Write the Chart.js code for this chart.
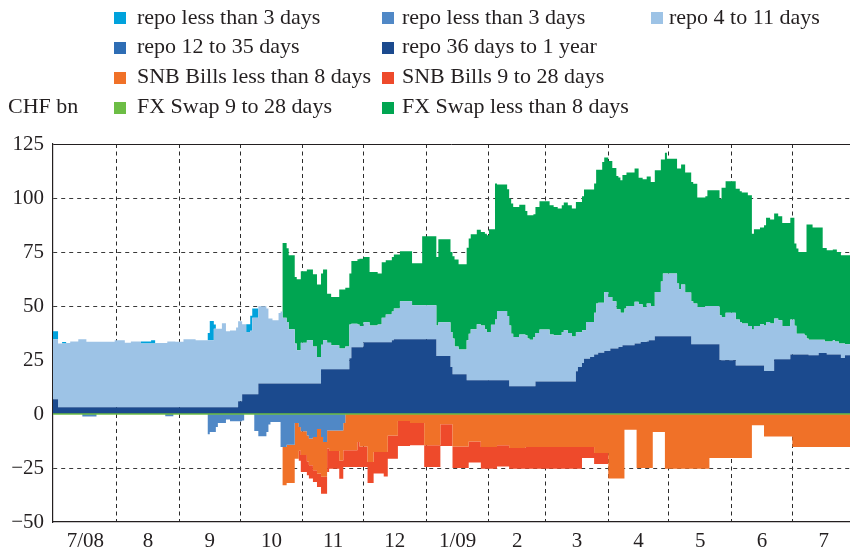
<!DOCTYPE html>
<html>
<head>
<meta charset="utf-8">
<script src="https://cdn.jsdelivr.net/npm/chart.js@4.4.0/dist/chart.umd.min.js"></script>
<style>
  body { margin: 0; background: #fff; }
  #wrap { position: relative; width: 850px; height: 551px; font-family: 'Liberation Serif', serif; color: #231f20; }
  #chart { position: absolute; left: 0; top: 0; }
  .txt { position: absolute; font-size: 22px; line-height: 24px; white-space: nowrap; }
  .sw { position: absolute; width: 12px; height: 12px; }
</style>
</head>
<body>
<div id="wrap">
  <canvas id="chart" width="850" height="551"></canvas>
  <div id="legend"></div>
</div>
<script>
// days counted from 1 Jul 2008, each value holds until the next day in the list
const days = [
  -1, 2, 4, 6, 8, 12, 14, 16, 21, 30,
  35, 38, 43, 48, 50, 55, 56, 59, 60,
  64, 70, 76, 77, 79, 80, 81, 83, 85, 87, 90, 91,
  93, 94, 95, 97, 98, 99, 101, 105, 106, 107, 108, 111, 112, 113, 115, 116, 119, 120, 121, 122,
  125, 126, 128, 130, 132, 133, 135, 136, 137, 141, 143, 144, 146, 147, 150, 151,
  153, 155, 156, 158, 160, 162, 163, 164, 165, 167, 168, 170, 171, 176, 177, 182, 183,
  189, 190, 191, 196, 197, 198, 200, 204, 205, 206, 209, 211, 213, 214,
  215, 216, 218, 219, 224, 225, 226, 227, 230, 233, 234, 235, 237, 238, 240,
  245, 247, 249, 251, 252, 254, 256, 258, 259, 261, 262, 263, 265, 267, 268, 269, 271, 272,
  274, 275, 276, 278, 279, 280, 281, 282, 283, 287, 288, 289, 290, 291, 293, 294, 295, 296, 297, 300, 301, 302, 303,
  308, 309, 310, 312, 315, 316, 318, 322, 323, 324, 329, 330, 332,
  337, 339, 340, 343, 345, 346, 349, 351, 352, 354, 356, 358, 360, 364,
  365, 366, 367, 368, 371, 372, 373, 375, 378, 380, 381, 382, 385, 386, 387, 388, 389, 391, 394
];

const repo36dTo1y = [
  6.8, 3.1, 3.1, 3.1, 3.1, 3.1, 3.1, 3.1, 3.1, 3.1,
  3.1, 3.1, 3.1, 3.1, 3.1, 3.1, 3.1, 3.1, 3.1,
  3.1, 3.1, 3.1, 3.1, 3.1, 3.1, 3.1, 3.1, 3.1, 3.1, 3.1, 5.9,
  9.1, 9.1, 9.1, 9.1, 9.1, 9.1, 14.1, 14.1, 14.1, 14.1, 14.1, 14.1, 14.1, 14.1, 14.1, 14.1, 14.1, 14.1, 14.1, 14.1,
  14.1, 14.1, 14.1, 14.1, 20.7, 20.7, 20.7, 20.7, 20.7, 20.7, 20.7, 20.7, 25.8, 30.9, 30.9, 30.9,
  33.2, 33.2, 33.2, 33.2, 33.2, 33.2, 33.2, 33.2, 33.2, 34.1, 34.6, 34.6, 34.6, 34.6, 34.6, 34.6, 34.6,
  26.8, 26.8, 26.8, 21.8, 18.4, 18.4, 18.4, 15.6, 15.6, 15.6, 15.6, 15.6, 15.6, 15.6,
  15.6, 15.6, 15.6, 15.6, 15.6, 12.8, 12.8, 12.8, 12.8, 12.8, 12.8, 12.8, 12.8, 15.1, 15.1,
  15.1, 15.1, 15.1, 15.1, 15.1, 15.1, 15.1, 19.8, 21.8, 23.6, 25.6, 25.6, 26.4, 27.5, 27.5, 28.4, 28.4, 29.2,
  29.2, 30.3, 30.3, 30.3, 31, 31, 31.8, 31.8, 31.8, 32.6, 32.6, 32.6, 33.3, 33.3, 33.6, 34.1, 34.1, 34.1, 36, 36, 36, 36, 36,
  36, 36, 36, 36, 32.3, 32.3, 32.3, 32.3, 32.3, 32.3, 24.9, 24.9, 24.9,
  22.5, 22.5, 22.5, 22.5, 22.5, 22.5, 22.5, 19.9, 19.9, 19.9, 25.3, 25.3, 25.3, 27.6,
  27.6, 27.6, 27.6, 27.6, 27.6, 27.6, 27.2, 27.2, 28.2, 28.2, 28.2, 27.6, 27.6, 27.6, 27.6, 27.6, 25.9, 27.2, 27.2
];

const repo4to11 = [
  27.8, 29.5, 29.5, 29.8, 30.5, 31.5, 31.5, 30.4, 30.4, 31.0,
  29.9, 30.5, 29.5, 29.5, 29.8, 29.8, 30.5, 30.5, 30.3,
  31.5, 31.0, 31.0, 31.0, 36.4, 36.4, 36.4, 38.9, 35.2, 35.6, 37.0, 37.0,
  32.4, 32.4, 28.9, 29.4, 35.5, 35.5, 35.8, 34.8, 30.1, 30.1, 29.3, 32.7, 33.3, 30.5, 28.5, 25.1, 18.5, 15.4, 15.4, 18.9,
  20, 20, 17.2, 12.3, 11.4, 13.4, 12.3, 12.3, 11.1, 9.6, 9.6, 10.6, 15.6, 10.9, 10.5, 9.8,
  9.3, 9.3, 7.8, 7.8, 8.2, 11.4, 11.4, 12.9, 12.9, 13.4, 14.2, 14.2, 17.6, 17.6, 15.7, 15.7, 15.7,
  14.2, 15.7, 15.7, 16.2, 16.5, 12.9, 11.5, 18.5, 21.6, 23.6, 25.9, 25.4, 23.6, 22.4,
  22.4, 25.7, 28.2, 32.1, 29.8, 28.2, 24.4, 22.8, 24, 23.7, 22.2, 21.6, 22.8, 22.4, 24,
  21.7, 21.4, 21.4, 22.9, 23.7, 22.4, 20.8, 18, 16, 15.2, 13.2, 17, 16.2, 19.4, 23.6, 23.1, 23.1, 27.3,
  25, 23.9, 21.9, 18.2, 17.5, 15.9, 15.1, 17, 18.2, 19.4, 19.4, 18.2, 17.5, 16.2, 17.5, 17, 15.9, 15.9, 20.5, 25.4, 29, 29, 29,
  24.4, 21.7, 23.9, 20.2, 19.9, 18.8, 17.2, 17.7, 17.7, 17.7, 20.8, 20, 22,
  21.3, 20.1, 19.4, 18.2, 16.6, 18.2, 19, 21.1, 22.7, 22, 18.9, 18.1, 15.4, 16.1,
  16.1, 13.3, 9.6, 9.6, 8.8, 7.3, 7.2, 7.2, 6.2, 6.2, 5.4, 6, 6.5, 6, 6, 5, 6.7, 5.1, 5.1
];

const repoUnder3 = [
  3.7, 0, 0.7, 0, 0, 0, 0, 0, 0, 0,
  0, 0, 1.0, 1.6, 0, 0, 0, 0, 0,
  0, 0, 3.4, 8.9, 1.9, 0, 0, 0, 0, 0, 0, 0,
  0, 0, 3.5, 7.0, 4.3, 4.3, 0, 0, 0, 0, 0, 0, 0, 0, 0, 0, 0, 0, 0, 0,
  0, 0, 0, 0, 0, 0, 0, 0, 0, 0, 0, 0, 0, 0, 0, 0,
  0, 0, 0, 0, 0, 0, 0, 0, 0, 0, 0, 0, 0, 0, 0, 0, 0,
  0, 0, 0, 0, 0, 0, 0, 0, 0, 0, 0, 0, 0, 0,
  0, 0, 0, 0, 0, 0, 0, 0, 0, 0, 0, 0, 0, 0, 0,
  0, 0, 0, 0, 0, 0, 0, 0, 0, 0, 0, 0, 0, 0, 0, 0, 0, 0,
  0, 0, 0, 0, 0, 0, 0, 0, 0, 0, 0, 0, 0, 0, 0, 0, 0, 0, 0, 0, 0, 0, 0,
  0, 0, 0, 0, 0, 0, 0, 0, 0, 0, 0, 0, 0,
  0, 0, 0, 0, 0, 0, 0, 0, 0, 0, 0, 0, 0, 0,
  0, 0, 0, 0, 0, 0, 0, 0, 0, 0, 0, 0, 0, 0, 0, 0, 0, 0, 0
];

const fxSwapUnder8 = [
  0, 0, 0, 0, 0, 0, 0, 0, 0, 0,
  0, 0, 0, 0, 0, 0, 0, 0, 0,
  0, 0, 0, 0, 0, 0, 0, 0, 0, 0, 0, 0,
  0, 0, 0, 0, 0, 0, 0, 0, 0, 0, 0, 0, 0, 34.6, 34.1, 34.3, 30.8, 32.9, 32.9, 33.1,
  32.8, 32.8, 33.4, 33.6, 32.9, 32.8, 22.7, 22.7, 22.4, 27.3, 27.3, 27.2, 23.6, 29, 30.2, 31.2,
  30.2, 30.2, 24.7, 24.7, 23.6, 25.6, 25.6, 25.1, 25.1, 25.2, 25, 25, 23.1, 23.1, 19.5, 32, 32,
  31.7, 38.4, 38.4, 37, 38.1, 40.2, 39.4, 42.9, 44, 44, 43.8, 43.3, 44.3, 44.7,
  47.5, 44.2, 62.9, 58.6, 58.6, 58.7, 60.2, 60.2, 60.1, 57.5, 57, 57.6, 56.9, 58.3, 59.4,
  59.8, 59.3, 58.6, 58.6, 59.1, 59.1, 59.2, 60.3, 60.3, 62, 65.1, 61.3, 61.3, 59.8, 62, 61.6, 65.2, 62.2,
  62.9, 62.9, 61.7, 61.7, 61, 61.3, 63.7, 61.8, 61.8, 61.6, 61.6, 58.6, 58.6, 59.2, 58.9, 58.9, 57.4, 57.4, 56.3, 56.4, 52.8, 56, 53.2,
  53.2, 55.9, 55.6, 55.6, 55.2, 55.5, 50.7, 50.8, 53.6, 53.6, 54, 59.9, 60.8,
  60.5, 60.5, 60.6, 60.6, 44.4, 44.8, 44.8, 46.4, 48.3, 48.1, 48.6, 48.1, 47.7, 47.2,
  47.2, 38, 39.4, 37.8, 38.6, 52.8, 53.3, 51.9, 51.9, 42.5, 43.3, 42.2, 42.1, 42.6, 41.4, 42.4, 40.9, 41.2, 41.2
];

// absorbing side (negative)
const repoUnder3Abs = [
  0, 0, 0, 0, 0, 0, -1.2, -1.2, 0, 0,
  0, 0, 0, 0, 0, -1, -1, 0, 0,
  0, 0, -9.4, -8.3, -8.3, -6, -4.2, -4.2, -2.5, -3.4, -3.4, -3.4,
  -3, 0, 0, 0, 0, -7.9, -10.3, -8.3, -4.9, -3.7, -3.7, -3.7, -15.3, -15.3, -14.2, -14.2, -4.2, -4.2, -6, -8,
  -9.9, -11.4, -10.6, -7, -10.6, -13, -7.6, -7.6, -7.6, -7.6, -4.2, 0, 0, 0, 0, 0,
  0, 0, 0, 0, 0, 0, 0, 0, 0, 0, 0, 0, 0, 0, 0, 0, 0,
  0, 0, 0, 0, 0, 0, 0, 0, 0, 0, 0, 0, 0, 0,
  0, 0, 0, 0, 0, 0, 0, 0, 0, 0, 0, 0, 0, 0, 0,
  0, 0, 0, 0, 0, 0, 0, 0, 0, 0, 0, 0, 0, 0, 0, 0, 0, 0,
  0, 0, 0, 0, 0, 0, 0, 0, 0, 0, 0, 0, 0, 0, 0, 0, 0, 0, 0, 0, 0, 0, 0,
  0, 0, 0, 0, 0, 0, 0, 0, 0, 0, 0, 0, 0,
  0, 0, 0, 0, 0, 0, 0, 0, 0, 0, 0, 0, 0, 0,
  0, 0, 0, 0, 0, 0, 0, 0, 0, 0, 0, 0, 0, 0, 0, 0, 0, 0, 0
];

const snbBillsUnder8 = [
  0, 0, 0, 0, 0, 0, 0, 0, 0, 0,
  0, 0, 0, 0, 0, 0, 0, 0, 0,
  0, 0, 0, 0, 0, 0, 0, 0, 0, 0, 0, 0,
  0, 0, 0, 0, 0, 0, 0, 0, 0, 0, 0, 0, 0, -17.7, -17.8, -17.8, -16.5, -16.5, -11, -11,
  -12.1, -12.3, -15.4, -20.6, -18.4, -16, -8.4, -9.5, -9.5, -13.9, -12.6, -16.8, -16.8, -16.8, -13, -15,
  -15, -22.2, -22.2, -17.6, -17.6, -17.6, -17.6, -17.6, -9.9, -9.9, -9.9, -3.2, -3.2, -4.2, -4.2, -4.2, -14.5,
  -14.5, -14.5, -4.8, -4.8, -15, -15, -15, -15, -12.7, -12.7, -12.7, -15.3, -15.3, -15.3,
  -15.3, -15.3, -15.3, -14.5, -14.5, -15.7, -15.7, -15.7, -15.7, -15.3, -15.3, -15.3, -15.3, -15.3, -15.3,
  -15.3, -15.3, -15.3, -15.3, -15.3, -15.3, -15.3, -15.3, -15.3, -15.3, -15.3, -15.3, -15.3, -18.1, -18.1, -18.1, -18.1, -18.1,
  -29.9, -29.9, -29.9, -29.9, -29.9, -29.9, -29.9, -7.3, -7.3, -7.3, -25, -25, -25, -25, -25, -25, -25, -8.3, -8.3, -8.3, -8.3, -25.3, -25.3,
  -25.3, -25.3, -25.3, -25.3, -25.3, -25.3, -25.3, -25.3, -25.3, -20.4, -20.4, -20.4, -20.4,
  -20.4, -20.4, -20.4, -20.4, -5.2, -5.2, -5.2, -10.4, -10.4, -10.4, -10.4, -10.4, -10.4, -10.4,
  -15.3, -15.3, -15.3, -15.3, -15.3, -15.3, -15.3, -15.3, -15.3, -15.3, -15.3, -15.3, -15.3, -15.3, -15.3, -15.3, -15.3, -15.3, -15.3
];

const snbBills9to28 = [
  0, 0, 0, 0, 0, 0, 0, 0, 0, 0,
  0, 0, 0, 0, 0, 0, 0, 0, 0,
  0, 0, 0, 0, 0, 0, 0, 0, 0, 0, 0, 0,
  0, 0, 0, 0, 0, 0, 0, 0, 0, 0, 0, 0, 0, 0, 0, 0, 0, 0, -4.7, -7.9,
  -6.4, -6.2, -5.5, -6.2, -7.9, -7.9, -10.9, -8.2, -8.2, -8.5, -7.7, -7.7, -7.7, -7.7, -11.5, -9.5,
  -9.5, -9.8, -9.8, -10, -10, -10, -11.3, -11.3, -10.8, -10.8, -10.8, -11.6, -11.6, -10.3, -10.3, -10.3, -10,
  -10, -10, -10, -10, -10, -10, -10, -10, -9.8, -9.8, -9.8, -10, -10, -10,
  -10, -10, -10, -9.8, -9.8, -9.6, -9.6, -9.6, -9.6, -10, -10, -10, -10, -10, -10,
  -10, -10, -10, -10, -10, -10, -10, -10, -10, -5.1, -5.1, -5.1, -5.1, -5.1, -5.1, -5.1, -5.1, -5.1,
  0, 0, 0, 0, 0, 0, 0, 0, 0, 0, 0, 0, 0, 0, 0, 0, 0, 0, 0, 0, 0, 0, 0,
  0, 0, 0, 0, 0, 0, 0, 0, 0, 0, 0, 0, 0,
  0, 0, 0, 0, 0, 0, 0, 0, 0, 0, 0, 0, 0, 0,
  0, 0, 0, 0, 0, 0, 0, 0, 0, 0, 0, 0, 0, 0, 0, 0, 0, 0, 0
];

// not visible in the picture
const repo12to35 = [];
// FX swaps 9 to 28 days stay at about zero over the whole period (first and last day)
const fxSwap9to28 = [0, 0];

const monthLabels = ['7/08', '8', '9', '10', '11', '12', '1/09', '2', '3', '4', '5', '6', '7'];

const ink = '#231f20';
const tickFont = { family: "'Liberation Serif', serif", size: 21 };

// month start days, gridlines at month boundaries, labels in the middle
const monthStarts = [];
for (let i = 0; i <= monthLabels.length; i++) {
  monthStarts.push(Math.round((Date.UTC(2008, 6 + i, 1) - Date.UTC(2008, 6, 1)) / 864e5));
}
const monthMids = monthLabels.map((_, i) => (monthStarts[i] + monthStarts[i + 1]) / 2);
const gridDays = monthStarts.slice(1, monthLabels.length);

const serie = (label, values, color, fill, stack) => ({
  label,
  data: days.map((d, i) => ({ x: d, y: values[i] })),
  backgroundColor: color,
  borderColor: 'rgba(0,0,0,0)',
  borderWidth: 0,
  fill,
  stack,
  stepped: true,
  pointRadius: 0
});

const datasets = [
  serie('repo 36 days to 1 year', repo36dTo1y, '#1b4a8e', 'origin', 'pos'),     // 0
  serie('repo 4 to 11 days', repo4to11, '#9dc3e6', '-1', 'pos'),               // 1
  serie('repo less than 3 days', repoUnder3, '#00a2dc', '-1', 'pos'),          // 2
  serie('FX Swap less than 8 days', fxSwapUnder8, '#00a551', '-1', 'pos'),     // 3
  serie('repo less than 3 days', repoUnder3Abs, '#5088c6', 'origin', 'neg'),   // 4
  serie('SNB Bills less than 8 days', snbBillsUnder8, '#f07128', '-1', 'neg'), // 5
  serie('SNB Bills 9 to 28 days', snbBills9to28, '#ee4a2b', '-1', 'neg'),      // 6
  {
    label: 'FX Swap 9 to 28 days',
    data: fxSwap9to28.map((v, i) => ({ x: i ? days[days.length - 1] : days[0], y: v })),
    backgroundColor: '#6cbd45', borderColor: '#6cbd45', borderWidth: 1.6,
    fill: false, stack: 'fx', pointRadius: 0, order: -1
  },                                                                            // 7
  {
    label: 'repo 12 to 35 days', data: repo12to35,
    backgroundColor: '#2e6db4', borderColor: '#2e6db4', borderWidth: 0,
    fill: false, stack: 'm', pointRadius: 0
  }                                                                             // 8
];

const chart = new Chart(document.getElementById('chart'), {
  type: 'line',
  data: { datasets },
  options: {
    responsive: false,
    animation: false,
    devicePixelRatio: 1,
    layout: { padding: { top: 144, right: 0, bottom: 0, left: 0 } },
    plugins: { legend: { display: false }, tooltip: { enabled: false } },
    scales: {
      x: {
        type: 'linear',
        min: -0.5,
        max: 393.5,
        afterBuildTicks: (s) => {
          s.ticks = gridDays.concat(monthMids).sort((a, b) => a - b).map(v => ({ value: v }));
        },
        afterFit: (s) => { s.height = 29; },
        ticks: {
          autoSkip: false, maxRotation: 0, padding: 7, color: ink, font: tickFont,
          callback: (v) => { const i = monthMids.indexOf(v); return i >= 0 ? monthLabels[i] : ''; }
        },
        grid: {
          drawTicks: false, lineWidth: 1,
          color: (c) => (c.tick && gridDays.includes(c.tick.value)) ? '#2b2b2b' : 'rgba(0,0,0,0)'
        },
        border: { color: ink, width: 1.2, dash: [4, 3.5] }
      },
      y: {
        stacked: true,
        min: -50,
        max: 125,
        afterFit: (s) => { s.width = 53; },
        ticks: {
          stepSize: 25, padding: 9, color: ink, font: tickFont,
          callback: (v) => v < 0 ? '\u2212' + (-v) : String(v)
        },
        grid: {
          drawTicks: false, lineWidth: 1,
          color: (c) => {
            const v = c.tick ? c.tick.value : null;
            if (v === 0 || v === -50) return 'rgba(0,0,0,0)';
            return v === 125 ? ink : '#3a3a3a';
          }
        },
        border: {
          color: ink, width: 1.2,
          dash: (c) => (c.tick && c.tick.value === 125) ? [] : [4, 4]
        }
      }
    }
  }
});

// legend laid out like the original, three columns and four rows
const legendRows = [[2, 4, 1], [8, 0], [5, 6], [7, 3]];
const swatchX = [114, 382, 651];
const textX = [137, 402, 669];
const rowTop = [12, 41.5, 71.5, 101.5];
const box = document.getElementById('legend');
const add = (cls, left, top, html, color) => {
  const el = document.createElement('div');
  el.className = cls;
  el.style.left = left + 'px';
  el.style.top = top + 'px';
  if (html) el.textContent = html;
  if (color) el.style.background = color;
  box.appendChild(el);
};
legendRows.forEach((row, r) => {
  row.forEach((idx, c) => {
    const d = chart.data.datasets[idx];
    add('sw', swatchX[c], rowTop[r], '', d.backgroundColor);
    add('txt', textX[c], rowTop[r] - 7.5, d.label);
  });
});
add('txt', 8, rowTop[3] - 7.5, 'CHF bn');
</script>
</body>
</html>
